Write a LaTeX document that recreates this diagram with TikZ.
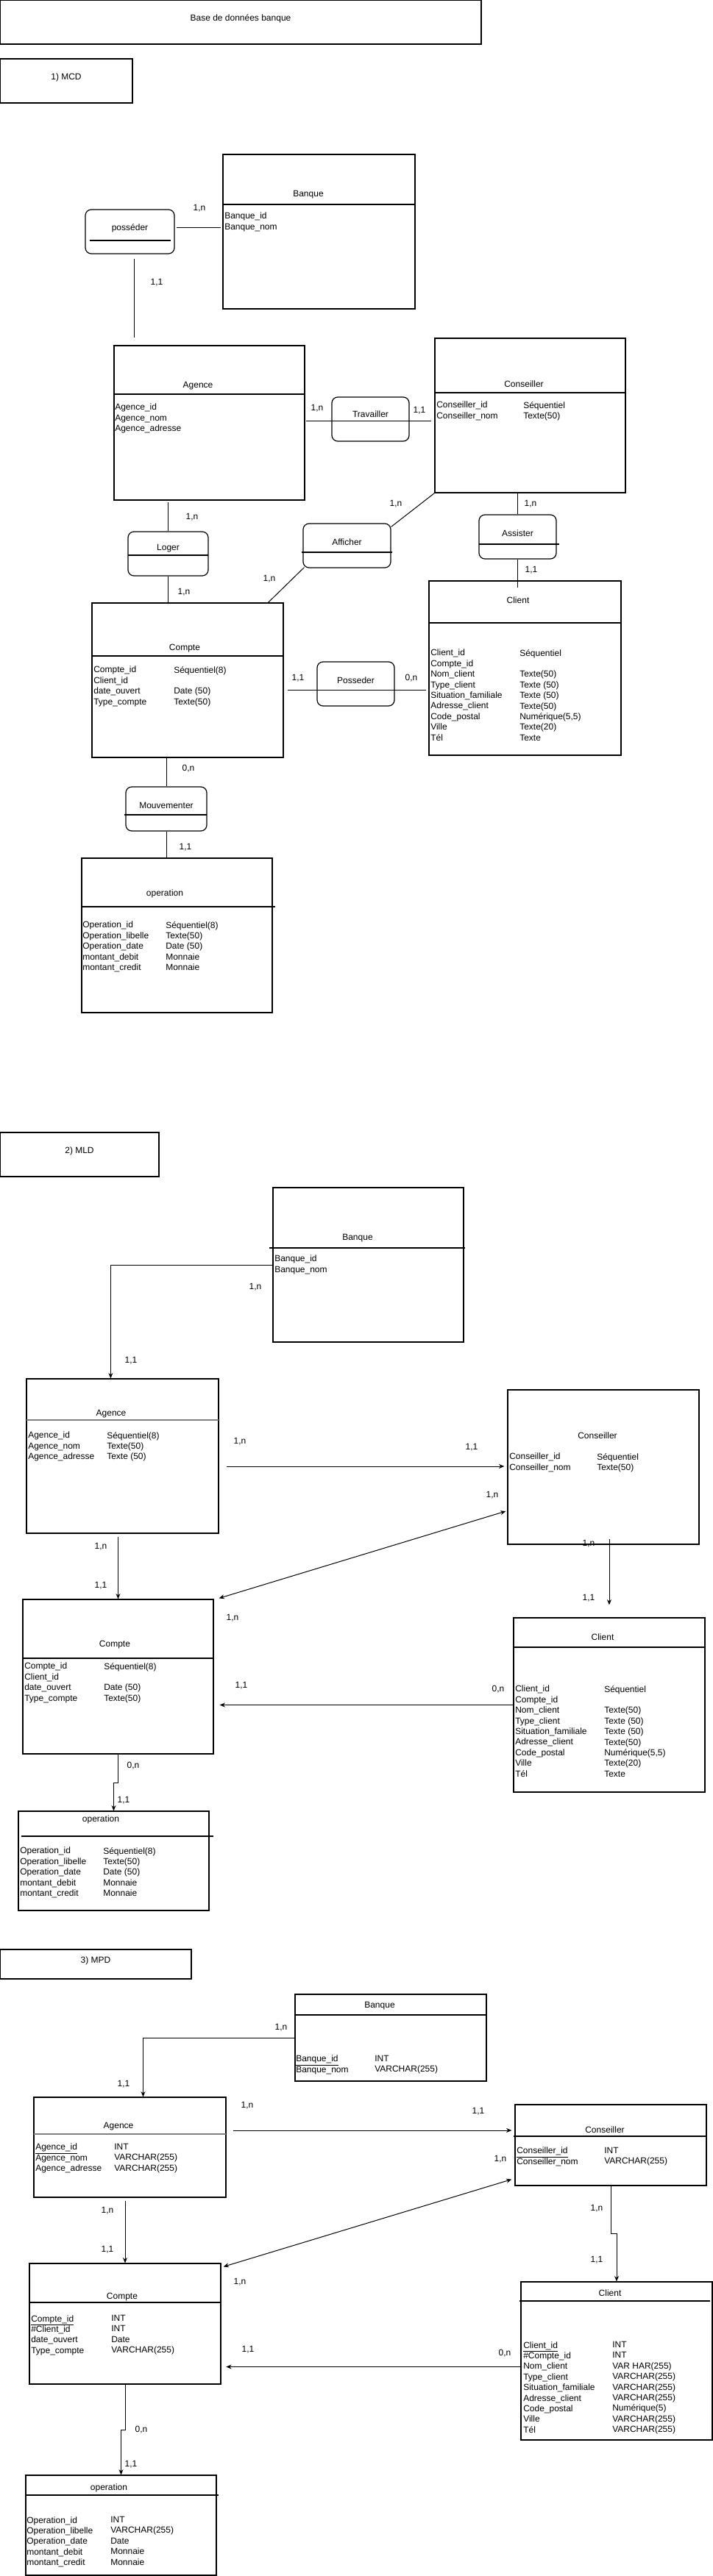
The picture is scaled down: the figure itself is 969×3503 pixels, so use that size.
\documentclass[tikz,border=0pt]{standalone}
\usepackage{fontspec}
\setmainfont{Liberation Sans}
\usetikzlibrary{arrows.meta}
\usetikzlibrary{fit}
\usetikzlibrary{calc}

\tikzset{
  every node/.style={font=\fontsize{9}{10.8}\selectfont},
  cadre/.style={draw, line width=0.9pt, inner sep=0pt},
  entity/.style={draw, line width=0.9pt, inner sep=0pt},
  assoc/.style={draw, line width=0.9pt, rounded corners=6pt, inner sep=0pt},
  attr/.style={align=left, anchor=north west, inner sep=0pt},
  card/.style={inner sep=0pt},
  trait/.style={line width=0.9pt},
  traitgris/.style={line width=1.6pt, gray},
  link/.style={line width=0.75pt},
  arr/.style={link, -{Stealth[length=5.5pt,width=4.5pt]}},
  darr/.style={link, {Stealth[length=5.5pt,width=4.5pt]}-{Stealth[length=5.5pt,width=4.5pt]}}
}

\begin{document}
\begin{tikzpicture}[x=0.75pt,y=-0.75pt]
	\useasboundingbox (0,0) rectangle (969,3503);

	%title boxes
	\node[cadre, fit={(0,0) (654,60)}] (titre) {Base de données banque};
	\node[cadre, fit={(0,80) (180,140)}] (mcd) {1) MCD};
	\node[cadre, fit={(0,1540) (216,1600)}] (mld) {2) MLD};
	\node[cadre, fit={(0,2651) (260,2691)}] (mpd) {3) MPD};

	%%%%%%%%%%%% MCD
	%entities
	\node[entity, fit={(303,210) (564,420)}] (mcdbanque) {};
	\node[entity, fit={(155,470) (414,680)}] (mcdagence) {};
	\node[entity, fit={(591,460) (850,670)}] (mcdconseiller) {};
	\node[entity, fit={(125,820) (385,1030)}] (mcdcompte) {};
	\node[entity, fit={(583,790) (844,1027)}] (mcdclient) {};
	\node[entity, fit={(111,1167) (370,1377)}] (mcdoperation) {};
	\draw[trait] (303,278) -- (564,278);
	\draw[trait] (155,536) -- (414,536);
	\draw[trait] (591,534) -- (850,534);
	\draw[trait] (125,892) -- (385,892);
	\draw[trait] (583,847) -- (844,847);
	\draw[trait] (112,1233) -- (374,1233);

	%names & attributes
	\node (mcdbanque-t) at (419,265) {Banque};
	\node[attr] (mcdbanque-a) at (305,289) {Banque\_id\\Banque\_nom};
	\node (mcdagence-t) at (269,525) {Agence};
	\node[attr] (mcdagence-a) at (156,549) {Agence\_id\\Agence\_nom\\Agence\_adresse};
	\node (mcdconseiller-t) at (712,522) {Conseiller};
	\node[attr] (mcdconseiller-a) at (593,546) {Conseiller\_id\\Conseiller\_nom};
	\node[attr] (mcdconseiller-b) at (711,546) {Séquentiel\\Texte(50)};
	\node (mcdcompte-t) at (251,882) {Compte};
	\node[attr] (mcdcompte-a) at (127,906) {Compte\_id\\Client\_id\\date\_ouvert\\Type\_compte};
	\node[attr] (mcdcompte-b) at (236,906) {Séquentiel(8)\\\mbox{}\\Date (50)\\Texte(50)};
	\node (mcdclient-t) at (704,816) {Client};
	\node[attr] (mcdclient-a) at (585,883) {Client\_id\\Compte\_id\\Nom\_client\\Type\_client\\Situation\_familiale\\Adresse\_client\\Code\_postal\\Ville\\Tél};
	\node[attr] (mcdclient-b) at (706,883) {Séquentiel\\\mbox{}\\Texte(50)\\Texte (50)\\Texte (50)\\Texte(50)\\Numérique(5,5)\\Texte(20)\\Texte};
	\node (mcdoperation-t) at (224,1215) {operation};
	\node[attr] (mcdoperation-a) at (112,1253) {Operation\_id\\Operation\_libelle\\Operation\_date\\montant\_debit\\montant\_credit};
	\node[attr] (mcdoperation-b) at (225,1253) {Séquentiel(8)\\Texte(50)\\Date (50)\\Monnaie\\Monnaie};

	%associations
	\node[assoc, fit={(116,285) (237,345)}] (posseder) {posséder};
	\node[assoc, fit={(451,540) (556,600)}, label={[name=travailler-t, yshift=5.25pt]center:Travailler}] (travailler) {};
	\node[assoc, fit={(174,723) (283,783)}, label={[name=loger-t, yshift=5.25pt]center:Loger}] (loger) {};
	\node[assoc, fit={(412,712) (531,772)}] (afficher) {Afficher};
	\node[assoc, fit={(651,700) (756,760)}] (assister) {Assister};
	\node[assoc, fit={(431,900) (536,960)}] (possederb) {Posseder};
	\node[assoc, fit={(171,1070) (281,1130)}] (mouvementer) {Mouvementer};
	\draw[trait] (122,327) -- (232,327);
	\draw[trait] (174,755) -- (283,755);
	\draw[trait] (410,751) -- (533,751);
	\draw[trait] (651,740) -- (760,740);
	\draw[trait] (169,1108) -- (281,1108);

	%links
	\draw[link, shorten <=2pt, shorten >=2pt] ($(posseder.east)+(0,-5)$) -- ($(posseder.east -| mcdbanque.west)+(0,-5)$);
	\draw[link, shorten <=4.5pt, shorten >=7.5pt] ($(posseder.south)+(6,0)$) -- ($(posseder.south |- mcdagence.north)+(6,0)$);
	\draw[link] ($(mcdagence.east)+(1,-3)$) -- ($(mcdagence.east -| mcdconseiller.west)+(-4,-3)$);
	\draw[link, shorten <=1.5pt] (loger.north |- mcdagence.south) -- (loger.north);
	\draw[link] (loger.south) -- (loger.south |- mcdcompte.north);
	\draw[link] (mcdconseiller.south west) -- ($(afficher.north east)+(0,5)$);
	\draw[link] ($(afficher.south west)+(2,-1)$) -- ($(mcdcompte.north west)+(240,0)$);
	\draw[link] (assister.north |- mcdconseiller.south) -- (assister.north);
	\draw[link] (assister.south) -- ($(assister.south |- mcdclient.north)+(0,10)$);
	\draw[link] ($(possederb.center -| mcdcompte.east)+(5,8)$) -- ($(possederb.center -| mcdclient.west)+(-3,8)$);
	\draw[link] (mouvementer.north |- mcdcompte.south) -- (mouvementer.north);
	\draw[link] (mouvementer.south) -- (mouvementer.south |- mcdoperation.north);

	%cardinalities
	\foreach \x/\y/\c [count=\i] in {271/283/{1,n}, 213/384/{1,1}, 431/555/{1,n}, 570/558/{1,1}, 261/703/{1,n}, 250/805/{1,n}, 538/685/{1,n}, 366/787/{1,n}, 721/685/{1,n}, 722/775/{1,1}, 405/922/{1,1}, 559/922/{0,n}, 256/1045/{0,n}, 252/1152/{1,1}}
		\node[card] (mcdc\i) at (\x,\y) {\c};

	%%%%%%%%%%%% MLD
	%entities
	\node[entity, fit={(371,1615) (630,1825)}] (mldbanque) {};
	\node[entity, fit={(36,1875) (297,2085)}] (mldagence) {};
	\node[entity, fit={(690,1890) (950,2100)}] (mldconseiller) {};
	\node[entity, fit={(31,2175) (290,2385)}] (mldcompte) {};
	\node[entity, fit={(698,2200) (958,2437)}] (mldclient) {};
	\node[entity, fit={(25,2463) (284,2598)}] (mldoperation) {};
	\draw[trait] (366,1697) -- (632,1697);
	\draw[traitgris] (36,1931) -- (297,1931);
	\draw[trait] (31,2255) -- (290,2255);
	\draw[trait] (698,2240) -- (958,2240);
	\draw[trait] (29,2497) -- (290,2497);

	%names & attributes
	\node (mldbanque-t) at (486,1684) {Banque};
	\node[attr] (mldbanque-a) at (373,1707) {Banque\_id\\Banque\_nom};
	\node (mldagence-t) at (151,1923) {Agence};
	\node[attr] (mldagence-a) at (38,1947) {Agence\_id\\Agence\_nom\\Agence\_adresse};
	\node[attr] (mldagence-b) at (145,1947) {Séquentiel(8)\\Texte(50)\\Texte (50)};
	\node (mldconseiller-t) at (812,1952) {Conseiller};
	\node[attr] (mldconseiller-a) at (692,1976) {Conseiller\_id\\Conseiller\_nom};
	\node[attr] (mldconseiller-b) at (811,1976) {Séquentiel\\Texte(50)};
	\node (mldcompte-t) at (156,2237) {Compte};
	\node[attr] (mldcompte-a) at (33,2261) {Compte\_id\\Client\_id\\date\_ouvert\\Type\_compte};
	\node[attr] (mldcompte-b) at (141,2261) {Séquentiel(8)\\\mbox{}\\Date (50)\\Texte(50)};
	\node (mldclient-t) at (819,2226) {Client};
	\node[attr] (mldclient-a) at (700,2292) {Client\_id\\Compte\_id\\Nom\_client\\Type\_client\\Situation\_familiale\\Adresse\_client\\Code\_postal\\Ville\\Tél};
	\node[attr] (mldclient-b) at (821,2292) {Séquentiel\\\mbox{}\\Texte(50)\\Texte (50)\\Texte (50)\\Texte(50)\\Numérique(5,5)\\Texte(20)\\Texte};
	\node (mldoperation-t) at (137,2474) {operation};
	\node[attr] (mldoperation-a) at (27,2512) {Operation\_id\\Operation\_libelle\\Operation\_date\\montant\_debit\\montant\_credit};
	\node[attr] (mldoperation-b) at (140,2512) {Séquentiel(8)\\Texte(50)\\Date (50)\\Monnaie\\Monnaie};

	%links
	\draw[arr] (mldbanque.west) -| ($(mldagence.north west)+(115,0)$);
	\draw[arr, shorten >=3pt] ($(mldagence.east)+(10,14)$) -- ($(mldagence.east -| mldconseiller.west)+(0,14)$);
	\draw[darr] ($(mldconseiller.west)+(-2,60)$) -- ($(mldcompte.north east)+(7,-1)$);
	\draw[arr, shorten <=3pt] ($(mldagence.south)+(-6,0)$) -- ($(mldagence.south |- mldcompte.north)+(-6,0)$);
	\draw[arr] ($(mldconseiller.south)+(8,-8)$) -- ($(mldconseiller.south |- mldclient.north)+(8,-17)$);
	\draw[arr, shorten >=6pt] (mldclient.west) -- (mldclient.west -| mldcompte.east);
	\draw[arr] (mldcompte.south) |- ($(mldcompte.south)!0.5!(mldoperation.north)$) -| (mldoperation.north);

	%cardinalities
	\foreach \x/\y/\c [count=\i] in {347/1750/{1,n}, 178/1850/{1,1}, 326/1960/{1,n}, 641/1968/{1,1}, 669/2033/{1,n}, 316/2200/{1,n}, 137/2103/{1,n}, 137/2156/{1,1}, 800/2099/{1,n}, 800/2173/{1,1}, 328/2292/{1,1}, 677/2297/{0,n}, 181/2401/{0,n}, 168/2448/{1,1}}
		\node[card] (mldc\i) at (\x,\y) {\c};

	%%%%%%%%%%%% MPD
	%entities
	\node[entity, fit={(401,2712) (661,2830)}] (mpdbanque) {};
	\node[entity, fit={(46,2852) (307,2988)}] (mpdagence) {};
	\node[entity, fit={(700,2862) (960,2972)}] (mpdconseiller) {};
	\node[entity, fit={(40,3078) (300,3242)}] (mpdcompte) {};
	\node[entity, fit={(708,3103) (968,3318)}] (mpdclient) {};
	\node[entity, fit={(35,3366) (294,3502)}] (mpdoperation) {};
	\draw[trait] (401,2740) -- (661,2740);
	\draw[traitgris] (46,2902) -- (307,2902);
	\draw[trait] (698,2905) -- (960,2905);
	\draw[trait] (40,3131) -- (300,3131);
	\draw[trait] (706,3129) -- (965,3129);
	\draw[trait] (35,3393) -- (297,3393);

	%names & attributes
	\node (mpdbanque-t) at (516,2728) {Banque};
	\node[attr] (mpdbanque-a) at (402,2795) {\underline{Banque\_id}\\Banque\_nom};
	\node[attr] (mpdbanque-b) at (509,2795) {INT\\VARCHAR(255)};
	\node (mpdagence-t) at (161,2892) {Agence};
	\node[attr] (mpdagence-a) at (48,2915) {\underline{Agence\_id}\\Agence\_nom\\Agence\_adresse};
	\node[attr] (mpdagence-b) at (155,2915) {INT\\VARCHAR(255)\\VARCHAR(255)};
	\node (mpdconseiller-t) at (822,2896) {Conseiller};
	\node[attr] (mpdconseiller-a) at (702,2920) {\underline{Conseiller\_id}\\Conseiller\_nom};
	\node[attr] (mpdconseiller-b) at (821,2920) {INT\\VARCHAR(255)};
	\node (mpdcompte-t) at (166,3124) {Compte};
	\node[attr] (mpdcompte-a) at (42,3148) {\underline{Compte\_id}\\\#Client\_id\\date\_ouvert\\Type\_compte};
	\node[attr] (mpdcompte-b) at (151,3148) {INT\\INT\\Date\\VARCHAR(255)};
	\node (mpdclient-t) at (829,3118) {Client};
	\node[attr] (mpdclient-a) at (711,3184) {\underline{Client\_id}\\\#Compte\_id\\Nom\_client\\Type\_client\\Situation\_familiale\\Adresse\_client\\Code\_postal\\Ville\\Tél};
	\node[attr] (mpdclient-b) at (832,3184) {INT\\INT\\VAR HAR(255)\\VARCHAR(255)\\VARCHAR(255)\\VARCHAR(255)\\Numérique(5)\\VARCHAR(255)\\VARCHAR(255)};
	\node (mpdoperation-t) at (148,3383) {operation};
	\node[attr] (mpdoperation-a) at (36,3422) {Operation\_id\\Operation\_libelle\\Operation\_date\\montant\_debit\\montant\_credit};
	\node[attr] (mpdoperation-b) at (150,3422) {INT\\VARCHAR(255)\\Date\\Monnaie\\Monnaie};

	%links
	\draw[arr] (mpdbanque.west) -| ($(mpdagence.north)+(18,0)$);
	\draw[arr, shorten >=3pt] ($(mpdagence.east)+(9,-23)$) -- ($(mpdagence.east -| mpdconseiller.west)+(0,-23)$);
	\draw[darr] ($(mpdconseiller.south west)+(-4,-9)$) -- ($(mpdcompte.north east)+(3,5)$);
	\draw[arr, shorten <=3pt] (mpdcompte.north |- mpdagence.south) -- (mpdcompte.north);
	\draw[arr] (mpdconseiller.south) |- ($(mpdconseiller.south)!0.5!(mpdclient.north)$) -| (mpdclient.north);
	\draw[arr, shorten >=5pt] ($(mpdclient.west)+(0,8)$) -- ($(mpdclient.west -| mpdcompte.east)+(0,8)$);
	\draw[arr] (mpdcompte.south) |- ($(mpdcompte.south)!0.5!(mpdoperation.north)$) -| (mpdoperation.north);

	%cardinalities
	\foreach \x/\y/\c [count=\i] in {382/2757/{1,n}, 168/2834/{1,1}, 336/2863/{1,n}, 650/2871/{1,1}, 680/2936/{1,n}, 146/3006/{1,n}, 146/3059/{1,1}, 811/3003/{1,n}, 811/3073/{1,1}, 326/3103/{1,n}, 337/3195/{1,1}, 686/3200/{0,n}, 192/3304/{0,n}, 178/3351/{1,1}}
		\node[card] (mpdc\i) at (\x,\y) {\c};
\end{tikzpicture}
\end{document}
